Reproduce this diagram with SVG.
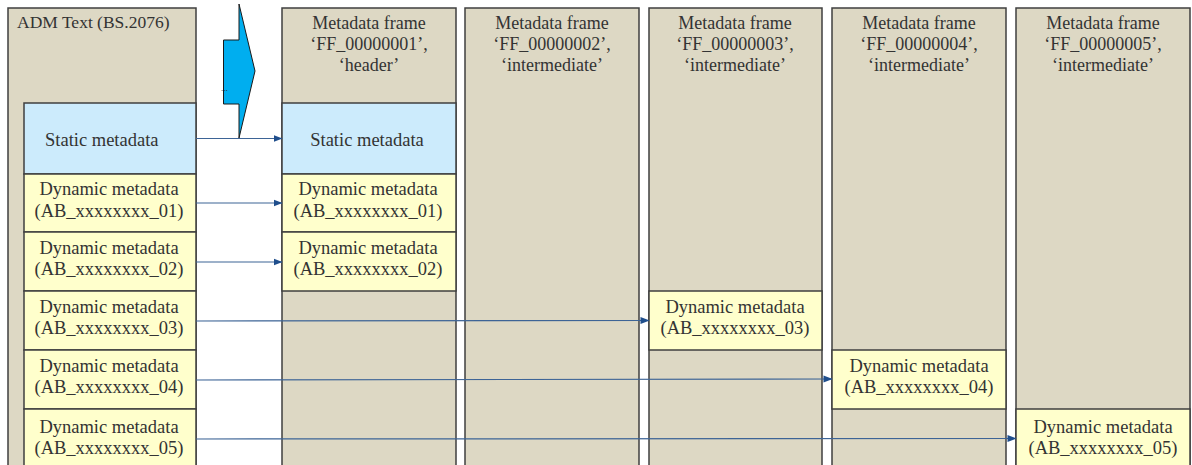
<svg xmlns="http://www.w3.org/2000/svg" width="1192" height="465" viewBox="0 0 1192 465">
<style>
.frame{fill:#DDD8C4;stroke:#3F3F3F;stroke-width:1.5}
.stat{fill:#CCEBFC;stroke:#3F3F3F;stroke-width:1.5}
.dyn{fill:#FFFFCC;stroke:#3F3F3F;stroke-width:1.5}
text{font-family:"Liberation Serif","Times New Roman",serif;fill:#333333}
.h{font-size:18px;text-anchor:middle}
.t{font-size:18.5px;text-anchor:middle}
.c{stroke:#3D6496;stroke-width:1.2;fill:none;marker-end:url(#ah)}
</style>
<defs>
<marker id="ah" markerWidth="9" markerHeight="8" refX="8.5" refY="4" orient="auto" markerUnits="userSpaceOnUse">
<path d="M0,0.5 L9,4 L0,7.5 Z" fill="#1F4E8C"/>
</marker>
</defs>
<rect width="1192" height="465" fill="#FFFFFF"/>

<g id="adm">
<rect class="frame" x="8" y="8" width="188" height="470"/>
<text x="17" y="28" style="font-size:17.5px">ADM Text (BS.2076)</text>
</g>
<g id="adm-static">
<rect class="stat" x="24" y="103" width="172" height="71"/>
<text x="45" y="145.5" style="font-size:18.5px">Static metadata</text>
</g>
<g id="adm-dyn01">
<rect class="dyn" x="24" y="174" width="172" height="58"/>
<text class="t" x="109" y="195">Dynamic metadata</text>
<text class="t" x="109" y="216.5">(AB_xxxxxxxx_01)</text>
</g>
<g id="adm-dyn02">
<rect class="dyn" x="24" y="232" width="172" height="59"/>
<text class="t" x="109" y="253.5">Dynamic metadata</text>
<text class="t" x="109" y="275">(AB_xxxxxxxx_02)</text>
</g>
<g id="adm-dyn03">
<rect class="dyn" x="24" y="291" width="172" height="59"/>
<text class="t" x="109" y="312.5">Dynamic metadata</text>
<text class="t" x="109" y="334">(AB_xxxxxxxx_03)</text>
</g>
<g id="adm-dyn04">
<rect class="dyn" x="24" y="350" width="172" height="59"/>
<text class="t" x="109" y="371.5">Dynamic metadata</text>
<text class="t" x="109" y="393">(AB_xxxxxxxx_04)</text>
</g>
<g id="adm-dyn05">
<rect class="dyn" x="24" y="409" width="172" height="70"/>
<text class="t" x="109" y="432.5">Dynamic metadata</text>
<text class="t" x="109" y="454">(AB_xxxxxxxx_05)</text>
</g>

<g id="big-arrow">
<polygon points="239,4 255,71 239,138 239,104 223.5,104 223.5,40 239,40" fill="#00AEEF" stroke="#1A1A1A" stroke-width="1"/>
<text x="221" y="91" style="font-size:9px;fill:#222">...</text>
</g>

<g id="frame1">
<rect class="frame" x="282" y="8" width="174" height="470"/>
<text class="h" x="369" y="29">Metadata frame</text>
<text class="h" x="369" y="50">‘FF_00000001’,</text>
<text class="h" x="369" y="71">‘header’</text>
</g>
<g id="f1-static">
<rect class="stat" x="282" y="103" width="174" height="71"/>
<text class="t" x="367" y="145.5">Static metadata</text>
</g>
<g id="f1-dyn01">
<rect class="dyn" x="282" y="174" width="174" height="58"/>
<text class="t" x="368" y="195">Dynamic metadata</text>
<text class="t" x="368" y="216.5">(AB_xxxxxxxx_01)</text>
</g>
<g id="f1-dyn02">
<rect class="dyn" x="282" y="232" width="174" height="59"/>
<text class="t" x="368" y="253.5">Dynamic metadata</text>
<text class="t" x="368" y="275">(AB_xxxxxxxx_02)</text>
</g>

<g id="frame2">
<rect class="frame" x="465" y="8" width="174" height="470"/>
<text class="h" x="552" y="29">Metadata frame</text>
<text class="h" x="552" y="50">‘FF_00000002’,</text>
<text class="h" x="552" y="71">‘intermediate’</text>
</g>

<g id="frame3">
<rect class="frame" x="649" y="8" width="173" height="470"/>
<text class="h" x="735" y="29">Metadata frame</text>
<text class="h" x="735" y="50">‘FF_00000003’,</text>
<text class="h" x="735" y="71">‘intermediate’</text>
</g>
<g id="f3-dyn03">
<rect class="dyn" x="649" y="291" width="173" height="59"/>
<text class="t" x="735" y="312.5">Dynamic metadata</text>
<text class="t" x="735" y="334">(AB_xxxxxxxx_03)</text>
</g>

<g id="frame4">
<rect class="frame" x="832" y="8" width="174" height="470"/>
<text class="h" x="919" y="29">Metadata frame</text>
<text class="h" x="919" y="50">‘FF_00000004’,</text>
<text class="h" x="919" y="71">‘intermediate’</text>
</g>
<g id="f4-dyn04">
<rect class="dyn" x="832" y="350" width="174" height="59"/>
<text class="t" x="919" y="371.5">Dynamic metadata</text>
<text class="t" x="919" y="393">(AB_xxxxxxxx_04)</text>
</g>

<g id="frame5">
<rect class="frame" x="1016" y="8" width="174" height="470"/>
<text class="h" x="1103" y="29">Metadata frame</text>
<text class="h" x="1103" y="50">‘FF_00000005’,</text>
<text class="h" x="1103" y="71">‘intermediate’</text>
</g>
<g id="f5-dyn05">
<rect class="dyn" x="1016" y="409" width="174" height="70"/>
<text class="t" x="1103" y="432.5">Dynamic metadata</text>
<text class="t" x="1103" y="454">(AB_xxxxxxxx_05)</text>
</g>

<g id="connectors">
<path class="c" d="M196,138.5 L282,138.5"/>
<path class="c" d="M196,203 L282,203"/>
<path class="c" d="M196,262 L282,262"/>
<path class="c" d="M196,321 L649,320.5"/>
<path class="c" d="M196,380 L832,379"/>
<path class="c" d="M196,439 L1016,438.5"/>
</g>
</svg>
